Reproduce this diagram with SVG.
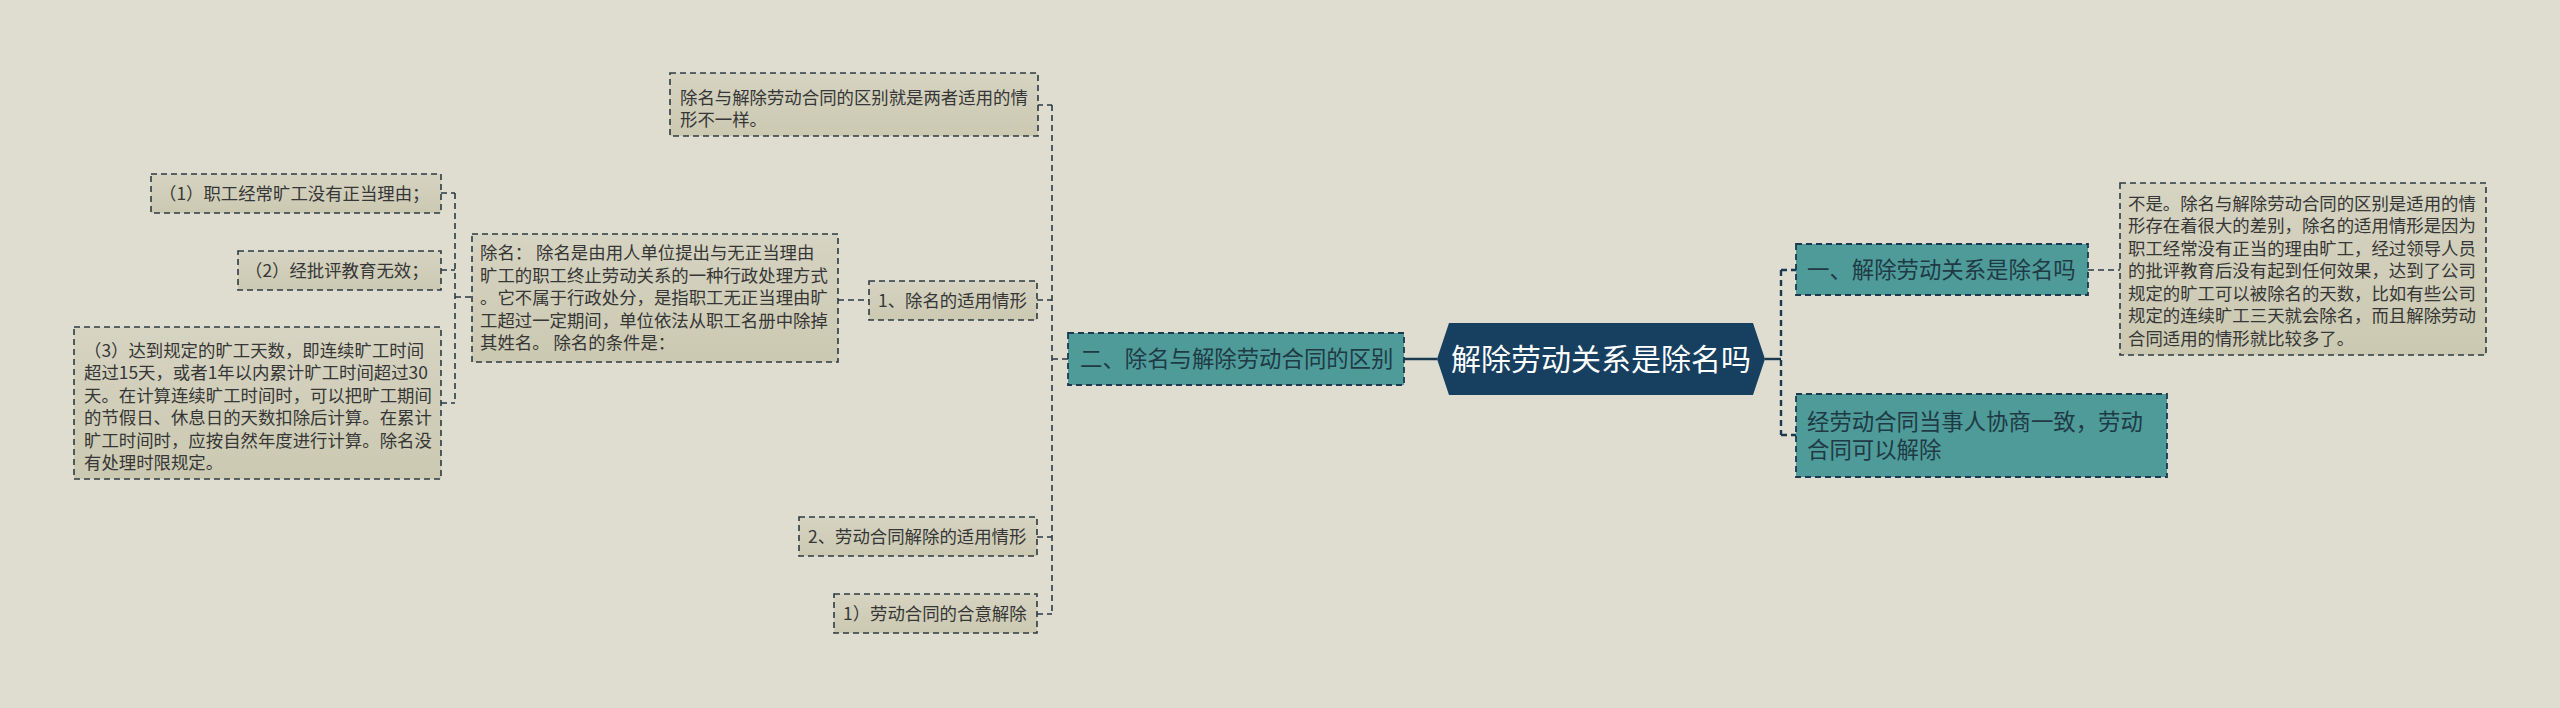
<svg xmlns="http://www.w3.org/2000/svg" width="2560" height="708" viewBox="0 0 2560 708">
<defs>
<linearGradient id="beige" x1="0" y1="0" x2="0" y2="1">
<stop offset="0" stop-color="#d6d4c2"/>
<stop offset="1" stop-color="#cbc9b1"/>
</linearGradient>
<style>
.bg{fill:#dfddd0}
.note{fill:url(#beige);stroke:#2e3a40;stroke-width:1.6;stroke-dasharray:6 4}
.teal{fill:#4e9b9a;stroke:#1b3a4f;stroke-width:1.8;stroke-dasharray:6 4}
.t{font-family:"Noto Sans CJK SC","Microsoft YaHei",sans-serif;font-size:17.4px;fill:#363636}
.tm{font-family:"Noto Sans CJK SC","Microsoft YaHei",sans-serif;font-size:22.4px;fill:#1f3a44}
.tc{font-family:"Noto Sans CJK SC","Microsoft YaHei",sans-serif;font-size:30px;fill:#ffffff}
.c{fill:none;stroke:#2a3a44;stroke-width:1.6;stroke-dasharray:6 4}
.cr{fill:none;stroke:#1b3a4f;stroke-width:2.4;stroke-dasharray:6 4}
.cs{fill:none;stroke:#1b3a4f;stroke-width:2.4}
</style>
</defs>
<rect class="bg" x="0" y="0" width="2560" height="708"/>
<g id="connectors">
<path class="cs" d="M1437 359 H1404"/>
<path class="c" d="M1052 105 V614"/>
<path class="c" d="M1037 105 H1052 M1037 300 H1052 M1052 359 H1068 M1037 537 H1052 M1037 614 H1052"/>
<path class="c" d="M455 193 V403"/>
<path class="c" d="M441 193 H455 M441 270 H455 M441 403 H455 M455 297 H472"/>
<path class="c" d="M838 300 H869"/>
<path class="cs" d="M1765 359 H1781"/>
<path class="cr" d="M1781 270 V435"/>
<path class="cr" d="M1781 270 H1796 M1781 435 H1796"/>
<path class="c" d="M2088 270 H2120"/>
</g>
<g id="root">
<polygon points="1437,359 1449,323 1753,323 1765,359 1753,395 1449,395" fill="#173f5f"/>
<text class="tc" x="1601" y="370" text-anchor="middle">解除劳动关系是除名吗</text>
</g>
<g id="n-er">
<rect class="teal" x="1068" y="333" width="336" height="52"/>
<text class="tm" x="1080" y="367">二、除名与解除劳动合同的区别</text>
</g>
<g id="n-yi">
<rect class="teal" x="1796" y="244" width="292" height="51"/>
<text class="tm" x="1807" y="278">一、解除劳动关系是除名吗</text>
</g>
<g id="n-jing">
<rect class="teal" x="1796" y="394" width="371" height="83"/>
<text class="tm" x="1807" y="430">经劳动合同当事人协商一致，劳动</text>
<text class="tm" x="1807" y="458">合同可以解除</text>
</g>
<g id="n-bushi">
<rect class="note" x="2120" y="183" width="366" height="172"/>
<text class="t" x="2128" y="209.5">不是。除名与解除劳动合同的区别是适用的情</text>
<text class="t" x="2128" y="232">形存在着很大的差别，除名的适用情形是因为</text>
<text class="t" x="2128" y="254.5">职工经常没有正当的理由旷工，经过领导人员</text>
<text class="t" x="2128" y="277">的批评教育后没有起到任何效果，达到了公司</text>
<text class="t" x="2128" y="299.5">规定的旷工可以被除名的天数，比如有些公司</text>
<text class="t" x="2128" y="322">规定的连续旷工三天就会除名，而且解除劳动</text>
<text class="t" x="2128" y="344.5">合同适用的情形就比较多了。</text>
</g>
<g id="n-a">
<rect class="note" x="670" y="73" width="368" height="63"/>
<text class="t" x="680" y="103.5">除名与解除劳动合同的区别就是两者适用的情</text>
<text class="t" x="680" y="126">形不一样。</text>
</g>
<g id="n-f">
<rect class="note" x="869" y="281" width="168" height="39"/>
<text class="t" x="878" y="307">1、除名的适用情形</text>
</g>
<g id="n-e">
<rect class="note" x="472" y="234" width="366" height="128"/>
<text class="t" x="480" y="259">除名： 除名是由用人单位提出与无正当理由</text>
<text class="t" x="480" y="281.5">旷工的职工终止劳动关系的一种行政处理方式</text>
<text class="t" x="480" y="304">。它不属于行政处分，是指职工无正当理由旷</text>
<text class="t" x="480" y="326.5">工超过一定期间，单位依法从职工名册中除掉</text>
<text class="t" x="480" y="349">其姓名。 除名的条件是：</text>
</g>
<g id="n-b">
<rect class="note" x="151" y="174" width="290" height="39"/>
<text class="t" x="159" y="200">（1）职工经常旷工没有正当理由；</text>
</g>
<g id="n-c">
<rect class="note" x="238" y="251" width="203" height="39"/>
<text class="t" x="245" y="277">（2）经批评教育无效；</text>
</g>
<g id="n-d">
<rect class="note" x="74" y="327" width="367" height="152"/>
<text class="t" x="84" y="356.5">（3）达到规定的旷工天数，即连续旷工时间</text>
<text class="t" x="84" y="379">超过15天，或者1年以内累计旷工时间超过30</text>
<text class="t" x="84" y="401.5">天。在计算连续旷工时间时，可以把旷工期间</text>
<text class="t" x="84" y="424">的节假日、休息日的天数扣除后计算。在累计</text>
<text class="t" x="84" y="446.5">旷工时间时，应按自然年度进行计算。除名没</text>
<text class="t" x="84" y="469">有处理时限规定。</text>
</g>
<g id="n-i">
<rect class="note" x="799" y="517" width="238" height="39"/>
<text class="t" x="808" y="543">2、劳动合同解除的适用情形</text>
</g>
<g id="n-j">
<rect class="note" x="834" y="594" width="203" height="39"/>
<text class="t" x="843" y="620">1）劳动合同的合意解除</text>
</g>
</svg>
